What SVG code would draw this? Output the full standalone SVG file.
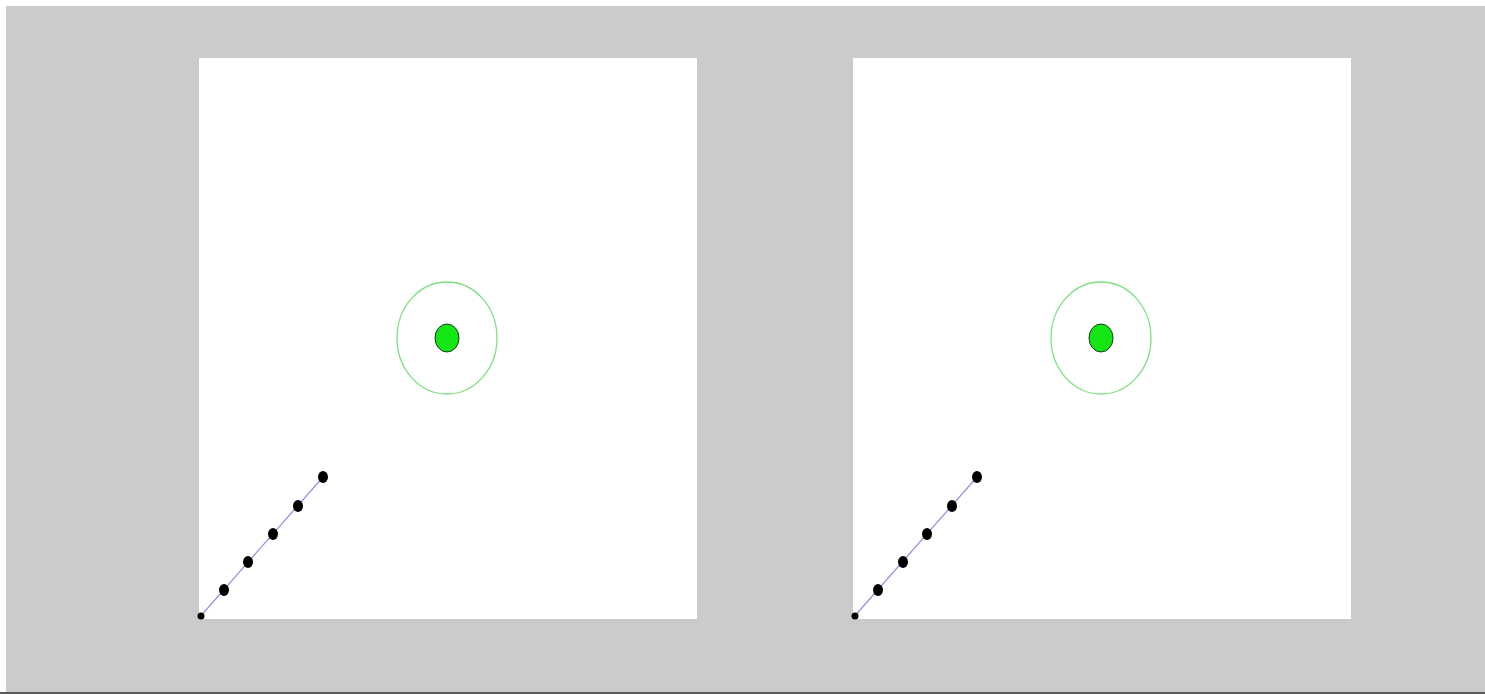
<svg xmlns="http://www.w3.org/2000/svg" width="1485" height="694" viewBox="0 0 1485 694">
<style>
.panel{fill:#ffffff}
.track{stroke:#8f8fe0;stroke-width:1.2;fill:none}
.dot{fill:#000000}
.halo{fill:none;stroke:#7fe07f;stroke-width:1.3}
.core{fill:#14e614;stroke:#1a3a1a;stroke-width:1}
</style>
<rect x="0" y="0" width="1485" height="694" fill="#ffffff"/>
<rect x="6" y="6" width="1479" height="686" fill="#cbcbcb"/>
<rect x="0" y="692" width="1485" height="2" fill="#5a5a5a"/>
<g id="panel-left">
<rect class="panel" x="199" y="58" width="498" height="561"/>
<g id="track-left">
<line class="track" x1="199" y1="618" x2="323" y2="477"/>
<circle class="dot" cx="201" cy="616" r="3.5"/>
<ellipse class="dot" cx="224" cy="590" rx="5" ry="6"/>
<ellipse class="dot" cx="248" cy="562" rx="5" ry="6"/>
<ellipse class="dot" cx="273" cy="534" rx="5" ry="6"/>
<ellipse class="dot" cx="298" cy="506" rx="5" ry="6"/>
<ellipse class="dot" cx="323" cy="477" rx="5" ry="6"/>
</g>
<g id="target-left">
<ellipse class="halo" cx="447" cy="338" rx="50" ry="56"/>
<ellipse class="core" cx="447" cy="338" rx="12" ry="14"/>
</g>
</g>
<g id="panel-right">
<rect class="panel" x="853" y="58" width="498" height="561"/>
<g id="track-right">
<line class="track" x1="853" y1="618" x2="977" y2="477"/>
<circle class="dot" cx="855" cy="616" r="3.5"/>
<ellipse class="dot" cx="878" cy="590" rx="5" ry="6"/>
<ellipse class="dot" cx="903" cy="562" rx="5" ry="6"/>
<ellipse class="dot" cx="927" cy="534" rx="5" ry="6"/>
<ellipse class="dot" cx="952" cy="506" rx="5" ry="6"/>
<ellipse class="dot" cx="977" cy="477" rx="5" ry="6"/>
</g>
<g id="target-right">
<ellipse class="halo" cx="1101" cy="338" rx="50" ry="56"/>
<ellipse class="core" cx="1101" cy="338" rx="12" ry="14"/>
</g>
</g>
</svg>
